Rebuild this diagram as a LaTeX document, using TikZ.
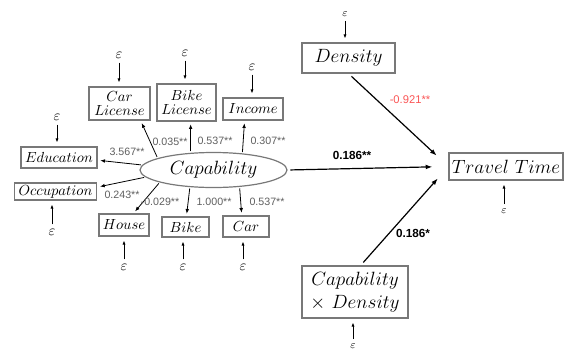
\documentclass[tikz,border=0pt]{standalone}
\usepackage{fontspec}
\newfontfamily\numfont{Liberation Sans}
\usetikzlibrary{shapes.geometric,arrows.meta}

\definecolor{labgray}{RGB}{95,95,95}
\definecolor{boxgray}{RGB}{120,120,120}
\definecolor{coefred}{RGB}{250,85,85}

\tikzset{every picture/.style={line width=0.75pt}}
\tikzset{
  var/.style={draw=boxgray, line width=0.9pt, inner sep=1pt, align=center, font=\fontsize{11.1}{10.2}\selectfont},
  bigvar/.style={draw=boxgray, line width=0.9pt, inner sep=1pt, align=center, font=\fontsize{15.6}{17}\selectfont},
  err/.style={inner sep=1pt, font=\fontsize{11}{11}\selectfont},
  errsmall/.style={inner sep=1pt, font=\fontsize{8}{8}\selectfont},
  errarr/.style={-{Latex[length=3pt,width=2.4pt]}, line width=0.6pt, shorten <=2pt, shorten >=3pt},
  load/.style={-{Latex[length=3.5pt,width=2.8pt]}, line width=0.6pt, shorten <=1pt, shorten >=2pt},
  effect/.style={-{Latex[length=5pt,width=3.6pt]}, line width=0.9pt, shorten <=3pt, shorten >=12pt},
  coef/.style={inner sep=0.75pt, text=labgray, font=\numfont\fontsize{8}{9}\selectfont},
  coefbold/.style={inner sep=0.75pt, text=black, font=\numfont\bfseries\fontsize{8.8}{10}\selectfont},
  coefred/.style={inner sep=0.75pt, text=coefred, font=\numfont\fontsize{8.4}{10}\selectfont},
}

\begin{document}
\begin{tikzpicture}[x=0.75pt,y=0.75pt,yscale=-1,xscale=1]
\path[use as bounding box] (0,0) rectangle (565,351);

%Shape: Ellipse [latent]
\node[ellipse, draw=boxgray, line width=0.9pt, minimum width=110.25pt, minimum height=26.25pt, inner sep=0pt, font=\fontsize{15.8}{17}\selectfont] (cap) at (213.5,170) {$Capability$};

%Shape: Rectangle [indicators]
\node[var, minimum width=45.75pt, minimum height=24.75pt] (carlic) at (119.5,103.5) {$Car$\\$License$};
\node[var, minimum width=44.25pt, minimum height=27.75pt] (bikelic) at (186.5,102.5) {$Bike$\\$License$};
\node[var, minimum width=45pt, minimum height=16.5pt] (income) at (253,109) {$Income$};
\node[var, minimum width=57pt, minimum height=15.75pt] (edu) at (59,157.5) {$Education$};
\node[var, minimum width=62pt, minimum height=12.75pt] (occ) at (55.5,191.5) {$Occupation$};
\node[var, minimum width=37.5pt, minimum height=16.5pt] (house) at (124,225) {$House$};
\node[var, minimum width=35.25pt, minimum height=15pt] (bike) at (185.5,227) {$Bike$};
\node[var, minimum width=34.5pt, minimum height=15.75pt] (car) at (246,226.5) {$Car$};

%Shape: Rectangle [structural part]
\node[bigvar, font=\fontsize{14}{16}\selectfont, minimum width=69.75pt, minimum height=22.5pt] (dens) at (348.5,58) {$Density$};
\node[bigvar, font=\fontsize{15}{17}\selectfont, minimum width=85.5pt, minimum height=20.25pt] (tt) at (506,166.5) {$Travel\ Time$};
\node[bigvar, minimum width=79.5pt, minimum height=39pt] (cxd) at (355,292) {$Capability$\\$\times\ Density$};

% Text Node [errors]
\node[err] (e1) at (119,55) {$\varepsilon$};
\node[err] (e2) at (185,53) {$\varepsilon$};
\node[err] (e3) at (252,67) {$\varepsilon$};
\node[err] (e4) at (57,117) {$\varepsilon$};
\node[err] (e5) at (52,232) {$\varepsilon$};
\node[err] (e6) at (124,267) {$\varepsilon$};
\node[err] (e7) at (183,267) {$\varepsilon$};
\node[err] (e8) at (243,267) {$\varepsilon$};
\node[errsmall] (e9) at (345,14) {$\varepsilon$};
\node[errsmall] (e10) at (504,211) {$\varepsilon$};
\node[errsmall] (e11) at (353,346) {$\varepsilon$};

%Straight Lines [errors]
\draw[errarr] (e1.south) -- (e1.south |- carlic.north);
\draw[errarr] (e2.south) -- (e2.south |- bikelic.north);
\draw[errarr] (e3.south) -- (e3.south |- income.north);
\draw[errarr] (e4.south) -- (e4.south |- edu.north);
\draw[errarr] (e5.north) -- (e5.north |- occ.south);
\draw[errarr] (e6.north) -- (e6.north |- house.south);
\draw[errarr] (e7.north) -- (e7.north |- bike.south);
\draw[errarr] (e8.north) -- (e8.north |- car.south);
\draw[errarr] (e9.south) -- (e9.south |- dens.north);
\draw[errarr] (e10.north) -- (e10.north |- tt.south);
\draw[errarr] (e11.north) -- (e11.north |- cxd.south);

%Straight Lines [loadings]
\draw[load] (cap.168) -- (carlic.-39);
\draw[load] (cap.143) -- (cap.143 |- bikelic.south);
\draw[load] (cap.30) -- (income.234);
\draw[load] (cap.176) -- (edu.-4);
\draw[load] (cap.186) -- (occ.6);
\draw[load] (cap.193) -- (house.51);
\draw[load] (cap.216) -- (bike.85);
\draw[load] (cap.-33) -- (car.111);

%Straight Lines [effects]
\draw[effect] (dens.south) -- (tt.west);
\draw[effect, shorten <=2pt] (cap.east) -- (tt.west);
\draw[effect] (cxd.78) -- (tt.west);

% Text Node [coefficients]
\node[coef] (c1) at (127,152) {3.567**};
\node[coef] (c2) at (170,142) {0.035**};
\node[coef] (c3) at (215,141) {0.537**};
\node[coef] (c4) at (268,141) {0.307**};
\node[coef] (c5) at (122,195) {0.243**};
\node[coef] (c6) at (160,202) {-0.029**};
\node[coef] (c7) at (214,202) {1.000**};
\node[coef] (c8) at (267,202) {0.537**};
\node[coefbold] (c9) at (352,155) {0.186**};
\node[coefred] (c10) at (410,100) {-0.921**};
\node[coefbold] (c11) at (413,233) {0.186*};

\end{tikzpicture}
\end{document}
